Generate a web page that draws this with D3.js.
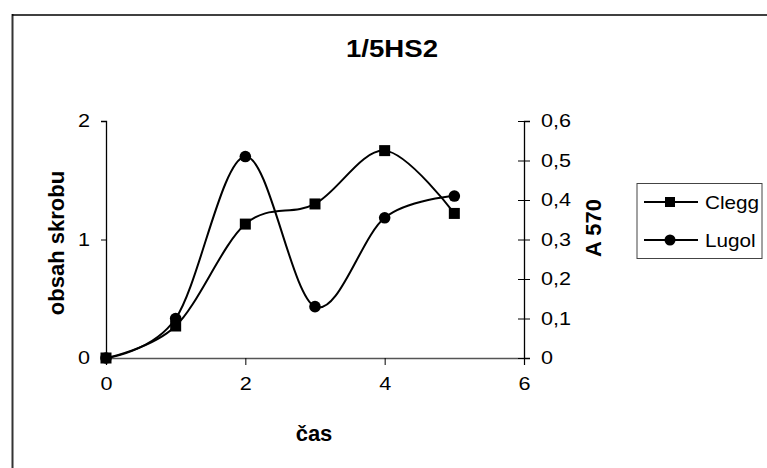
<!DOCTYPE html>
<html>
<head>
<meta charset="utf-8">
<script src="https://cdn.jsdelivr.net/npm/d3@7"></script>
<style>
  html, body { margin: 0; padding: 0; background: #fff; }
  svg { display: block; font-family: "Liberation Sans", Arial, sans-serif; }
</style>
</head>
<body>
<svg id="chart" width="767" height="468"></svg>
<script>
// ---- data ----
const times = [0, 1, 2, 3, 4, 5];
const clegg = [0, 0.27, 1.13, 1.30, 1.75, 1.22];      // left axis (obsah skrobu)
const lugol = [0, 0.10, 0.51, 0.13, 0.355, 0.41];     // right axis (A 570)
const xTicks = [0, 2, 4, 6];
const leftTicks = [0, 1, 2];
const rightTicks = [0, 0.1, 0.2, 0.3, 0.4, 0.5, 0.6];
const seriesNames = ["Clegg", "Lugol"];
const titleText = "1/5HS2";
const xTitle = "čas";
const leftTitle = "obsah skrobu";
const rightTitle = "A 570";

// ---- layout ----
const svg = d3.select("#chart");
const X0 = 106, X1 = 524, Y0 = 358, Y1 = 121;
const SX = 1.2; // horizontal glyph stretch seen in reference

const x = d3.scaleLinear().domain([0, 6]).range([X0, X1]);
const yL = d3.scaleLinear().domain([0, 2]).range([Y0, Y1]);
const yR = d3.scaleLinear().domain([0, 0.6]).range([Y0, Y1]);

// chart area border (left + top visible)
svg.append("line").attr("x1", 12.5).attr("x2", 12.5).attr("y1", 14).attr("y2", 468)
  .attr("stroke", "#333").attr("stroke-width", 2);
svg.append("line").attr("x1", 12).attr("x2", 767).attr("y1", 15).attr("y2", 15)
  .attr("stroke", "#000").attr("stroke-width", 1.5);

function stretchText(sel, sx) {
  sel.selectAll(".tick text").each(function () {
    const t = d3.select(this);
    const tx = +t.attr("x") || 0, ty = +t.attr("y") || 0;
    t.attr("x", 0).attr("y", 0)
     .attr("transform", `translate(${tx},${ty}) scale(${sx},1)`);
  });
}

const commaFmt = d => d === 0 ? "0" : d3.format(".1f")(d).replace(".", ",");

// x axis
const gx = svg.append("g").attr("transform", `translate(0,${Y0})`)
  .call(d3.axisBottom(x).tickValues(xTicks).tickFormat(d3.format("d")).tickSizeOuter(0).tickSize(7).tickPadding(12));
// left axis
const gl = svg.append("g").attr("transform", `translate(${X0},0)`)
  .call(d3.axisLeft(yL).tickValues(leftTicks).tickFormat(d3.format("d")).tickSizeOuter(0).tickSize(5).tickPadding(11));
// right axis
const gr = svg.append("g").attr("transform", `translate(${X1},0)`)
  .call(d3.axisRight(yR).tickValues(rightTicks).tickFormat(commaFmt).tickSizeOuter(0).tickSize(6).tickPadding(11));
gr.selectAll(".tick line").attr("x1", -6);

[gx, gl, gr].forEach(g => {
  g.select(".domain").attr("stroke", "#000").attr("stroke-width", 1.3);
  g.selectAll(".tick line").attr("stroke", "#000").attr("stroke-width", 1);
  g.selectAll(".tick text").attr("fill", "#000")
    .style("font-size", "18px").style("font-family", "'Liberation Sans', Arial, sans-serif");
  stretchText(g, SX);
});
gx.select(".domain").attr("stroke", "#555");

// titles
svg.append("text").attr("transform", `translate(392,57) scale(${SX},1)`)
  .attr("text-anchor", "middle").style("font-size", "23px").style("font-weight", "bold")
  .text(titleText);
svg.append("text").attr("transform", `translate(314,441)`)
  .attr("text-anchor", "middle").style("font-size", "22px").style("font-weight", "bold")
  .text(xTitle);
svg.append("text").attr("transform", `translate(64,243) rotate(-90)`)
  .attr("text-anchor", "middle").style("font-size", "22px").style("font-weight", "bold")
  .text(leftTitle);
svg.append("text").attr("transform", `translate(601,228) rotate(-90)`)
  .attr("text-anchor", "middle").style("font-size", "22px").style("font-weight", "bold")
  .text(rightTitle);

// series lines
const curve = d3.curveCardinal.tension(0);
const lineL = d3.line().x((d, i) => x(times[i])).y(d => yL(d)).curve(curve);
const lineR = d3.line().x((d, i) => x(times[i])).y(d => yR(d)).curve(curve);

svg.append("path").attr("d", lineL(clegg)).attr("fill", "none").attr("stroke", "#000").attr("stroke-width", 2);
svg.append("path").attr("d", lineR(lugol)).attr("fill", "none").attr("stroke", "#000").attr("stroke-width", 2);

const SQ = 11, CR = 5.8;
svg.selectAll("circle.lug").data(lugol).enter().append("circle")
  .attr("cx", (d, i) => x(times[i])).attr("cy", d => yR(d)).attr("r", CR).attr("fill", "#000");
svg.selectAll("rect.cle").data(clegg).enter().append("rect")
  .attr("x", (d, i) => x(times[i]) - SQ / 2).attr("y", d => yL(d) - SQ / 2)
  .attr("width", SQ).attr("height", SQ).attr("fill", "#000");

// legend
const lg = svg.append("g");
lg.append("rect").attr("x", 637).attr("y", 183.5).attr("width", 125).attr("height", 75)
  .attr("fill", "#fff").attr("stroke", "#444").attr("stroke-width", 1);
const rows = [202, 240];
seriesNames.forEach((name, i) => {
  const yy = rows[i];
  lg.append("line").attr("x1", 644).attr("x2", 698).attr("y1", yy).attr("y2", yy)
    .attr("stroke", "#000").attr("stroke-width", 2);
  if (i === 0) {
    lg.append("rect").attr("x", 670 - 5).attr("y", yy - 5).attr("width", 10).attr("height", 10).attr("fill", "#000");
  } else {
    lg.append("circle").attr("cx", 670).attr("cy", yy).attr("r", 5.5).attr("fill", "#000");
  }
  lg.append("text").attr("transform", `translate(705,${yy + 6.5}) scale(1.15,1)`)
    .style("font-size", "18px").text(name);
});
</script>
</body>
</html>
